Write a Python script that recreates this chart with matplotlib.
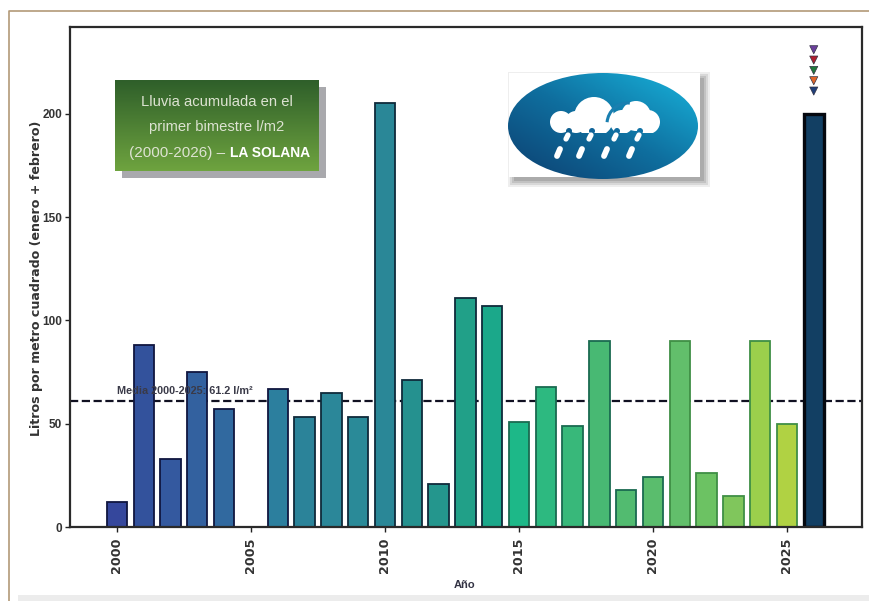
import matplotlib
matplotlib.use('Agg')
import matplotlib.pyplot as plt
from matplotlib.colors import LinearSegmentedColormap
from matplotlib.patches import Rectangle, Ellipse, Circle, Arc
import numpy as np

years = list(range(2000, 2027))
rain = [12, 88, 33, 75, 57, 0, 67, 53, 65, 53, 205, 71, 21, 111, 107, 51, 68, 49, 90, 18, 24, 90, 26, 15, 90, 50, 200]
bar_colors = ['#35479c', '#33529c', '#34599f', '#33619f', '#31699f', '#2f739f', '#2c7f9e', '#2b8399',
              '#2b8799', '#2a8a98', '#2a8797', '#25918f', '#24968d', '#21a088', '#1ba88a', '#1db888',
              '#2db980', '#38b87a', '#48b973', '#52bb70', '#5abd6d', '#62bf6b', '#6cc263', '#80c65c',
              '#9bcf4c', '#b0d243', '#123f63']
edge_colors = ['#10163f'] * 7 + ['#0f2a3a'] * 8 + ['#1a6a50'] * 6 + ['#3f8f45'] * 5 + ['#05080f']
mean_rain = 61.2
yticks = [0, 50, 100, 150, 200]
xticks = [2000, 2005, 2010, 2015, 2020, 2025]
marker_colors = ['#6b3f9c', '#b01f2e', '#1f7a3c', '#e0662a', '#1f3f7a']
marker_heights = [231, 226, 221, 216, 211]

W, H = 870, 601
sans = 'Liberation Sans'
fig = plt.figure(figsize=(W / 100, H / 100), dpi=100, facecolor='white')

# fondo de la pagina: borde y banda gris
bg = fig.add_axes([0, 0, 1, 1], zorder=0)
bg.set_xlim(0, W)
bg.set_ylim(H, 0)
bg.axis('off')
bg.add_patch(Rectangle((18, 595), W - 18, 6, color='#ececec', lw=0))
bg.plot([9, 9, W], [H, 11, 11], color='#b39a78', lw=1.2)

ax = fig.add_axes([70 / W, 1 - 527 / H, (862 - 70) / W, (527 - 27) / H], zorder=1)
ax.axhline(mean_rain, color='#111122', ls='--', lw=1.6, zorder=1)
bars = ax.bar(years, rain, width=0.76, color=bar_colors, edgecolor=edge_colors, linewidth=1.3, zorder=2)
bars[-1].set_linewidth(2.4)
ax.text(2000.0, 63.5, 'Media 2000-2025: 61.2 l/m²', fontsize=7.8, family=sans, fontweight='bold',
        color='#3a3a48', va='bottom', ha='left', zorder=4)
ax.scatter([2026] * 5, marker_heights, marker='v', s=34, c=marker_colors, edgecolors='#333344',
           linewidths=0.5, zorder=4)

ax.set_xlim(1998.25, 2027.8)
ax.set_ylim(0, 242)
ax.set_xticks(xticks)
ax.set_xticklabels(xticks, rotation=90, fontsize=9.2, fontweight='bold', color='#333333')
ax.set_yticks(yticks)
ax.set_yticklabels(yticks, fontsize=8.5, family=sans, fontweight='bold', color='#333333')
ax.tick_params(axis='x', length=3.5, width=1, color='#222222', pad=4)
ax.tick_params(axis='y', length=3.5, width=1, color='#222222', pad=2)
ax.set_xlabel('Año', fontsize=8, family=sans, fontweight='bold', color='#333344')
ax.xaxis.set_label_coords(0.498, -0.106)
ax.set_ylabel('Litros por metro cuadrado (enero + febrero)', fontsize=9.1, fontweight='bold', color='#333333')
ax.yaxis.set_label_coords(-0.034, 0.497)
for s in ax.spines.values():
    s.set_linewidth(1.6)
    s.set_color('#2a2a2a')

# cartel verde y logo en coordenadas de pixel
fg = fig.add_axes([0, 0, 1, 1], zorder=2)
fg.axis('off')
fg.patch.set_alpha(0)

fg.add_patch(Rectangle((122, 87), 204, 91, color='#a9a9ad', lw=0))
green = np.linspace(0, 1, 64).reshape(-1, 1)
fg.imshow(green, extent=(115, 319, 171, 80), aspect='auto', zorder=2,
          cmap=LinearSegmentedColormap.from_list('g', ['#2f5f2a', '#6ea33f']))
fg.text(217, 102, 'Lluvia acumulada en el', color='#dde3d2', fontsize=10.6, family=sans, ha='center', va='center', zorder=3)
fg.text(217, 127, 'primer bimestre l/m2', color='#dde3d2', fontsize=10.6, family=sans, ha='center', va='center', zorder=3)
fg.text(225, 153, '(2000-2026) –', color='#dde3d2', fontsize=11, family=sans, ha='right', va='center', zorder=3)
fg.text(230, 153, 'LA SOLANA', color='white', fontsize=10, family=sans, fontweight='bold', ha='left', va='center', zorder=3)

# sombra difusa del logo
for grow, alpha in [(6, 0.12), (4, 0.18), (2, 0.22), (0, 0.3)]:
    fg.add_patch(Rectangle((514 - grow, 78 - grow), 190 + 2 * grow, 103 + 2 * grow, color='#777777',
                           alpha=alpha, lw=0, zorder=2))
fg.add_patch(Rectangle((509, 73), 191, 104, color='white', lw=0, zorder=2))
xx, yy = np.meshgrid(np.linspace(0, 1, 100), np.linspace(0, 1, 60))
blue = fg.imshow(xx - yy, extent=(508, 698, 179, 73), aspect='auto', zorder=3,
                 cmap=LinearSegmentedColormap.from_list('b', ['#0c3f70', '#0f6f9f', '#18b4dc']))
blue.set_clip_path(Ellipse((603, 126), 190, 106, transform=fg.transData))

# nube con la base plana
base = Rectangle((540, 90), 130, 43, transform=fg.transData)
for cx, cy, r in [(561, 122, 11), (594, 117, 20), (576, 122, 11), (636, 116, 15), (622, 122, 12), (648, 122, 12)]:
    lobe = Circle((cx, cy), r, color='white', lw=0, zorder=4)
    fg.add_patch(lobe)
    lobe.set_clip_path(base)
fg.add_patch(Arc((628, 124), 42, 42, theta1=185, theta2=275, color='#1a7fb0', lw=2.2, zorder=5))
for dx, col in zip([567, 590, 615, 638], ['#0f5f90', '#10659a', '#106ca0', '#1173a6']):
    fg.add_patch(Circle((dx + 2, 131), 3, color=col, lw=0, zorder=5))
    fg.plot([dx + 1, dx - 1], [135, 139], color='white', lw=3.8, solid_capstyle='round', zorder=5)
for dx in [558, 580, 605, 630]:
    fg.plot([dx + 2, dx - 1], [149, 156], color='white', lw=4.2, solid_capstyle='round', zorder=5)
fg.set_xlim(0, W)
fg.set_ylim(H, 0)

fig.savefig('out.png', dpi=100)
